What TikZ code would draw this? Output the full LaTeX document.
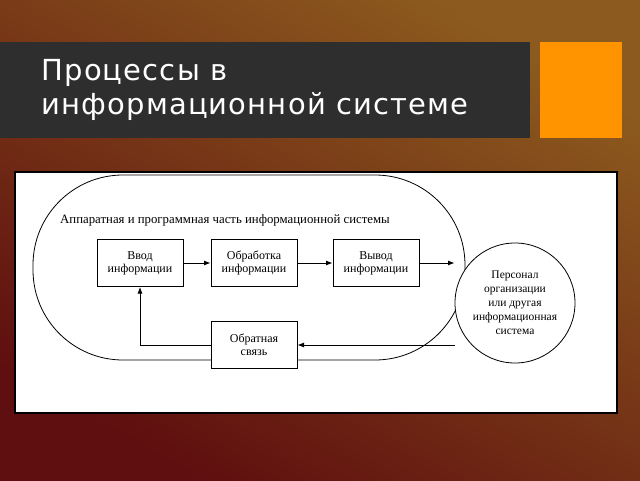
\documentclass[tikz,border=0pt]{standalone}
\usepackage{fontspec}
\setmainfont{Liberation Serif}
\newfontfamily\titlefont[LetterSpace=4]{DejaVu Sans}
\usetikzlibrary{arrows.meta, positioning}

\begin{document}
\begin{tikzpicture}[x=1pt, y=-1pt,
    blok/.style = {draw, thick, fill=white, minimum width=86pt, minimum height=47pt, align=center, font=\fontsize{12}{13}\selectfont},
    arr/.style = {-Latex, thick}]
        % background
        \shade[left color={rgb,255:red,140;green,90;blue,30}, right color={rgb,255:red,95;green,15;blue,15}, shading angle=-30] (0,0) rectangle (640,480);
        \useasboundingbox (0,0) rectangle (640,480);
        \fill[black!82] (0,42) rectangle (530,138);
        \fill[orange!85!yellow] (540,42) rectangle (622,138);
        \node (title) [anchor=north west, align=left, text=white, font=\titlefont\fontsize{29}{34}\selectfont] at (38,56) {Процессы в\\информационной системе};

        \draw[black, line width=2pt, fill=white] (15,172) rectangle (617,413);
        \draw[thick, rounded corners=90pt] (33,175) rectangle (465,360);
        \node (person) [draw, thick, circle, minimum size=120pt, align=center, fill=white, font=\fontsize{11.5}{14}\selectfont] at (515,303) {Персонал\\организации\\или другая\\информационная\\система};
        \node (caption) [anchor=west, inner sep=0pt, font=\fontsize{12.8}{14}\selectfont] at (60,220) {Аппаратная и программная часть информационной системы};

        \node (vvod) [blok] at (140,263) {Ввод\\информации};
        \node (obr) [blok] at (254,263) {Обработка\\информации};
        \node (vyvod) [blok] at (376,263) {Вывод\\информации};
        \node (svyaz) [blok] at (254,345) {Обратная\\связь};

        \draw[arr] (vvod) -- (obr);
        \draw[arr] (obr) -- (vyvod);
        \draw[arr] (vyvod.east) -- (vyvod.east -| person.west);
        \draw[arr] (person.west |- svyaz.east) -- (svyaz.east);
        \draw[arr] (svyaz.west) -| (vvod.south);
    \end{tikzpicture}
\end{document}
